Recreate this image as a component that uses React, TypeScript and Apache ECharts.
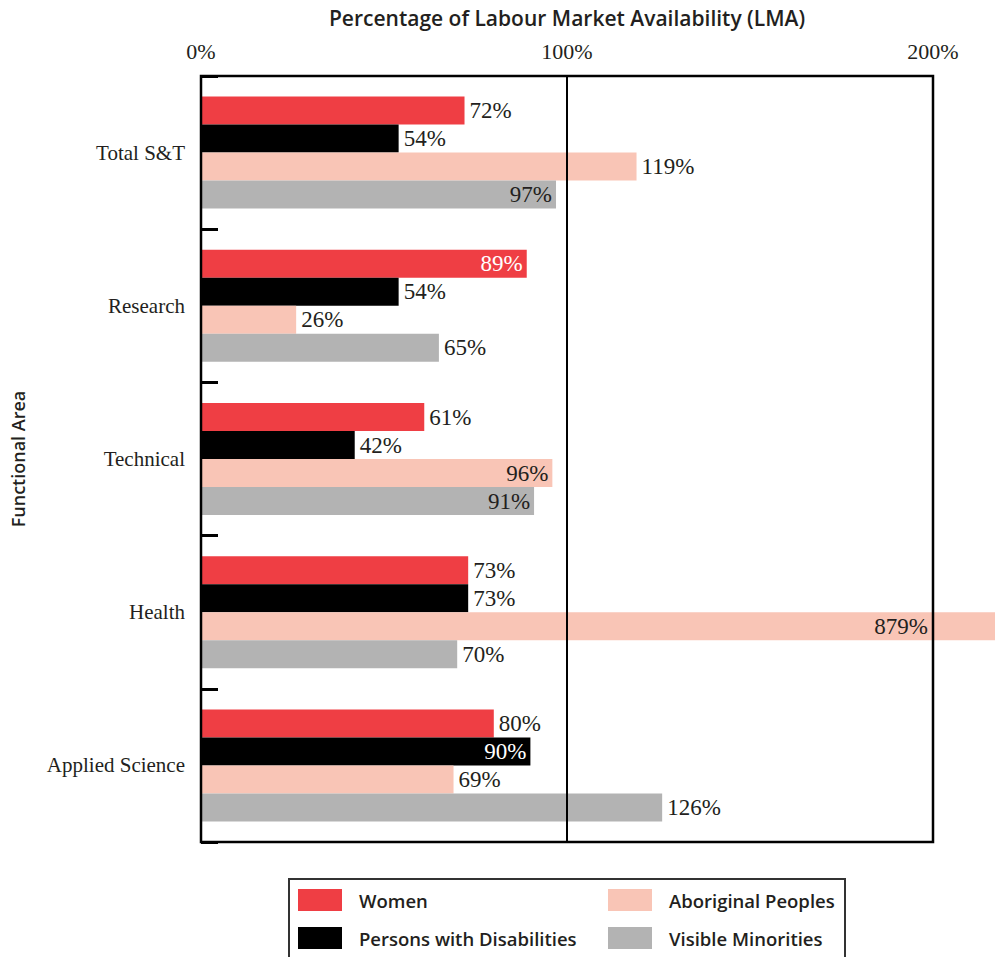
import React, { useEffect, useRef } from "react";
import * as echarts from "echarts";

const categories = ["Total S&T", "Research", "Technical", "Health", "Applied Science"];
const seriesNames = ["Women", "Persons with Disabilities", "Aboriginal Peoples", "Visible Minorities"];
const women = [72, 89, 61, 73, 80];
const disabilities = [54, 54, 42, 73, 90];
const aboriginal = [119, 26, 96, 879, 69];
const visible = [97, 65, 91, 70, 126];
const xMin = 0;
const xMax = 200;
const xInterval = 100;

const colors = ["#EF3E44", "#000000", "#F9C5B6", "#B3B3B3"];
// which bars carry their value label inside the bar end, and which labels are white
const insideIdx = [[1], [4], [2, 3], [0, 2]];
const whiteIdx = [[1], [4], [], []];

const GRID = { left: 201, top: 76, width: 732, height: 766 };
const SERIF = "'Liberation Serif', 'Times New Roman', serif";
const SANS = "'Open Sans', 'Noto Sans', sans-serif";

export default function App() {
  const ref = useRef<HTMLDivElement>(null);
  useEffect(() => {
    document.body.style.margin = "0";
    if (!ref.current) return;
    const chart = echarts.init(ref.current, null, { renderer: "svg" });
    const values = [women, disabilities, aboriginal, visible];
    const series = values.map((vals, si) => ({
      name: seriesNames[si],
      type: "bar",
      barWidth: 28,
      barGap: "0%",
      clip: false,
      itemStyle: { color: colors[si] },
      label: {
        show: true,
        position: "right",
        distance: 5,
        formatter: "{c}%",
        fontFamily: SERIF,
        fontSize: 23,
        color: "#231F20",
      },
      data: vals.map((v, i) => {
        const inside = insideIdx[si].includes(i);
        const white = whiteIdx[si].includes(i);
        if (v > xMax) {
          return {
            value: v,
            label: {
              position: [GRID.width - 5, "50%"],
              align: "right",
              verticalAlign: "middle",
              color: "#231F20",
            },
          };
        }
        if (inside) {
          return {
            value: v,
            label: { position: "insideRight", distance: 4, color: white ? "#FFFFFF" : "#231F20" },
          };
        }
        return { value: v };
      }),
    }));

    chart.setOption({
      animation: false,
      backgroundColor: "#ffffff",
      grid: {
        left: GRID.left,
        top: GRID.top,
        width: GRID.width,
        height: GRID.height,
        containLabel: false,
        outerBoundsMode: "none",
      },
      xAxis: {
        type: "value",
        position: "top",
        min: xMin,
        max: xMax,
        interval: xInterval,
        z: 10,
        name: "Percentage of Labour Market Availability (LMA)",
        nameLocation: "middle",
        nameGap: 48,
        nameTextStyle: { fontFamily: SANS, fontWeight: 600, fontSize: 21, color: "#231F20" },
        axisLine: { show: false },
        axisTick: { show: false },
        axisLabel: {
          formatter: "{value}%",
          fontFamily: SERIF,
          fontSize: 22,
          color: "#231F20",
          margin: 14,
        },
        splitLine: { show: true, lineStyle: { color: "#000", width: 2 } },
      },
      yAxis: {
        type: "category",
        data: categories,
        inverse: true,
        name: "Functional Area",
        nameLocation: "middle",
        nameGap: 174,
        nameRotate: 90,
        nameTextStyle: { fontFamily: SANS, fontWeight: 600, fontSize: 18, color: "#231F20" },
        axisLine: { show: false },
        axisTick: { show: true, inside: true, length: 17, lineStyle: { color: "#000", width: 3 } },
        axisLabel: { fontFamily: SERIF, fontSize: 21, color: "#231F20", margin: 16 },
        splitLine: { show: false },
      },
      legend: [
        {
          left: 298,
          top: 889,
          orient: "vertical",
          padding: 0,
          itemWidth: 44,
          itemHeight: 22,
          itemGap: 16,
          icon: "rect",
          data: [seriesNames[0], seriesNames[1]],
          textStyle: { fontFamily: SANS, fontWeight: 600, fontSize: 18.5, color: "#231F20", padding: [0, 0, 0, 12] },
          selectedMode: false,
        },
        {
          left: 608,
          top: 889,
          orient: "vertical",
          padding: 0,
          itemWidth: 44,
          itemHeight: 22,
          itemGap: 16,
          icon: "rect",
          data: [seriesNames[2], seriesNames[3]],
          textStyle: { fontFamily: SANS, fontWeight: 600, fontSize: 18.5, color: "#231F20", padding: [0, 0, 0, 12] },
          selectedMode: false,
        },
      ],
      graphic: [
        {
          type: "rect",
          z: 100,
          silent: true,
          shape: { x: GRID.left, y: GRID.top, width: GRID.width, height: GRID.height },
          style: { fill: "none", stroke: "#000", lineWidth: 2.5 },
        },
        {
          type: "rect",
          z: 100,
          silent: true,
          shape: { x: 289, y: 879, width: 556, height: 100 },
          style: { fill: "none", stroke: "#333", lineWidth: 2 },
        },
      ],
      series,
    });
    return () => chart.dispose();
  }, []);
  return <div ref={ref} style={{ width: 995, height: 957 }} />;
}
